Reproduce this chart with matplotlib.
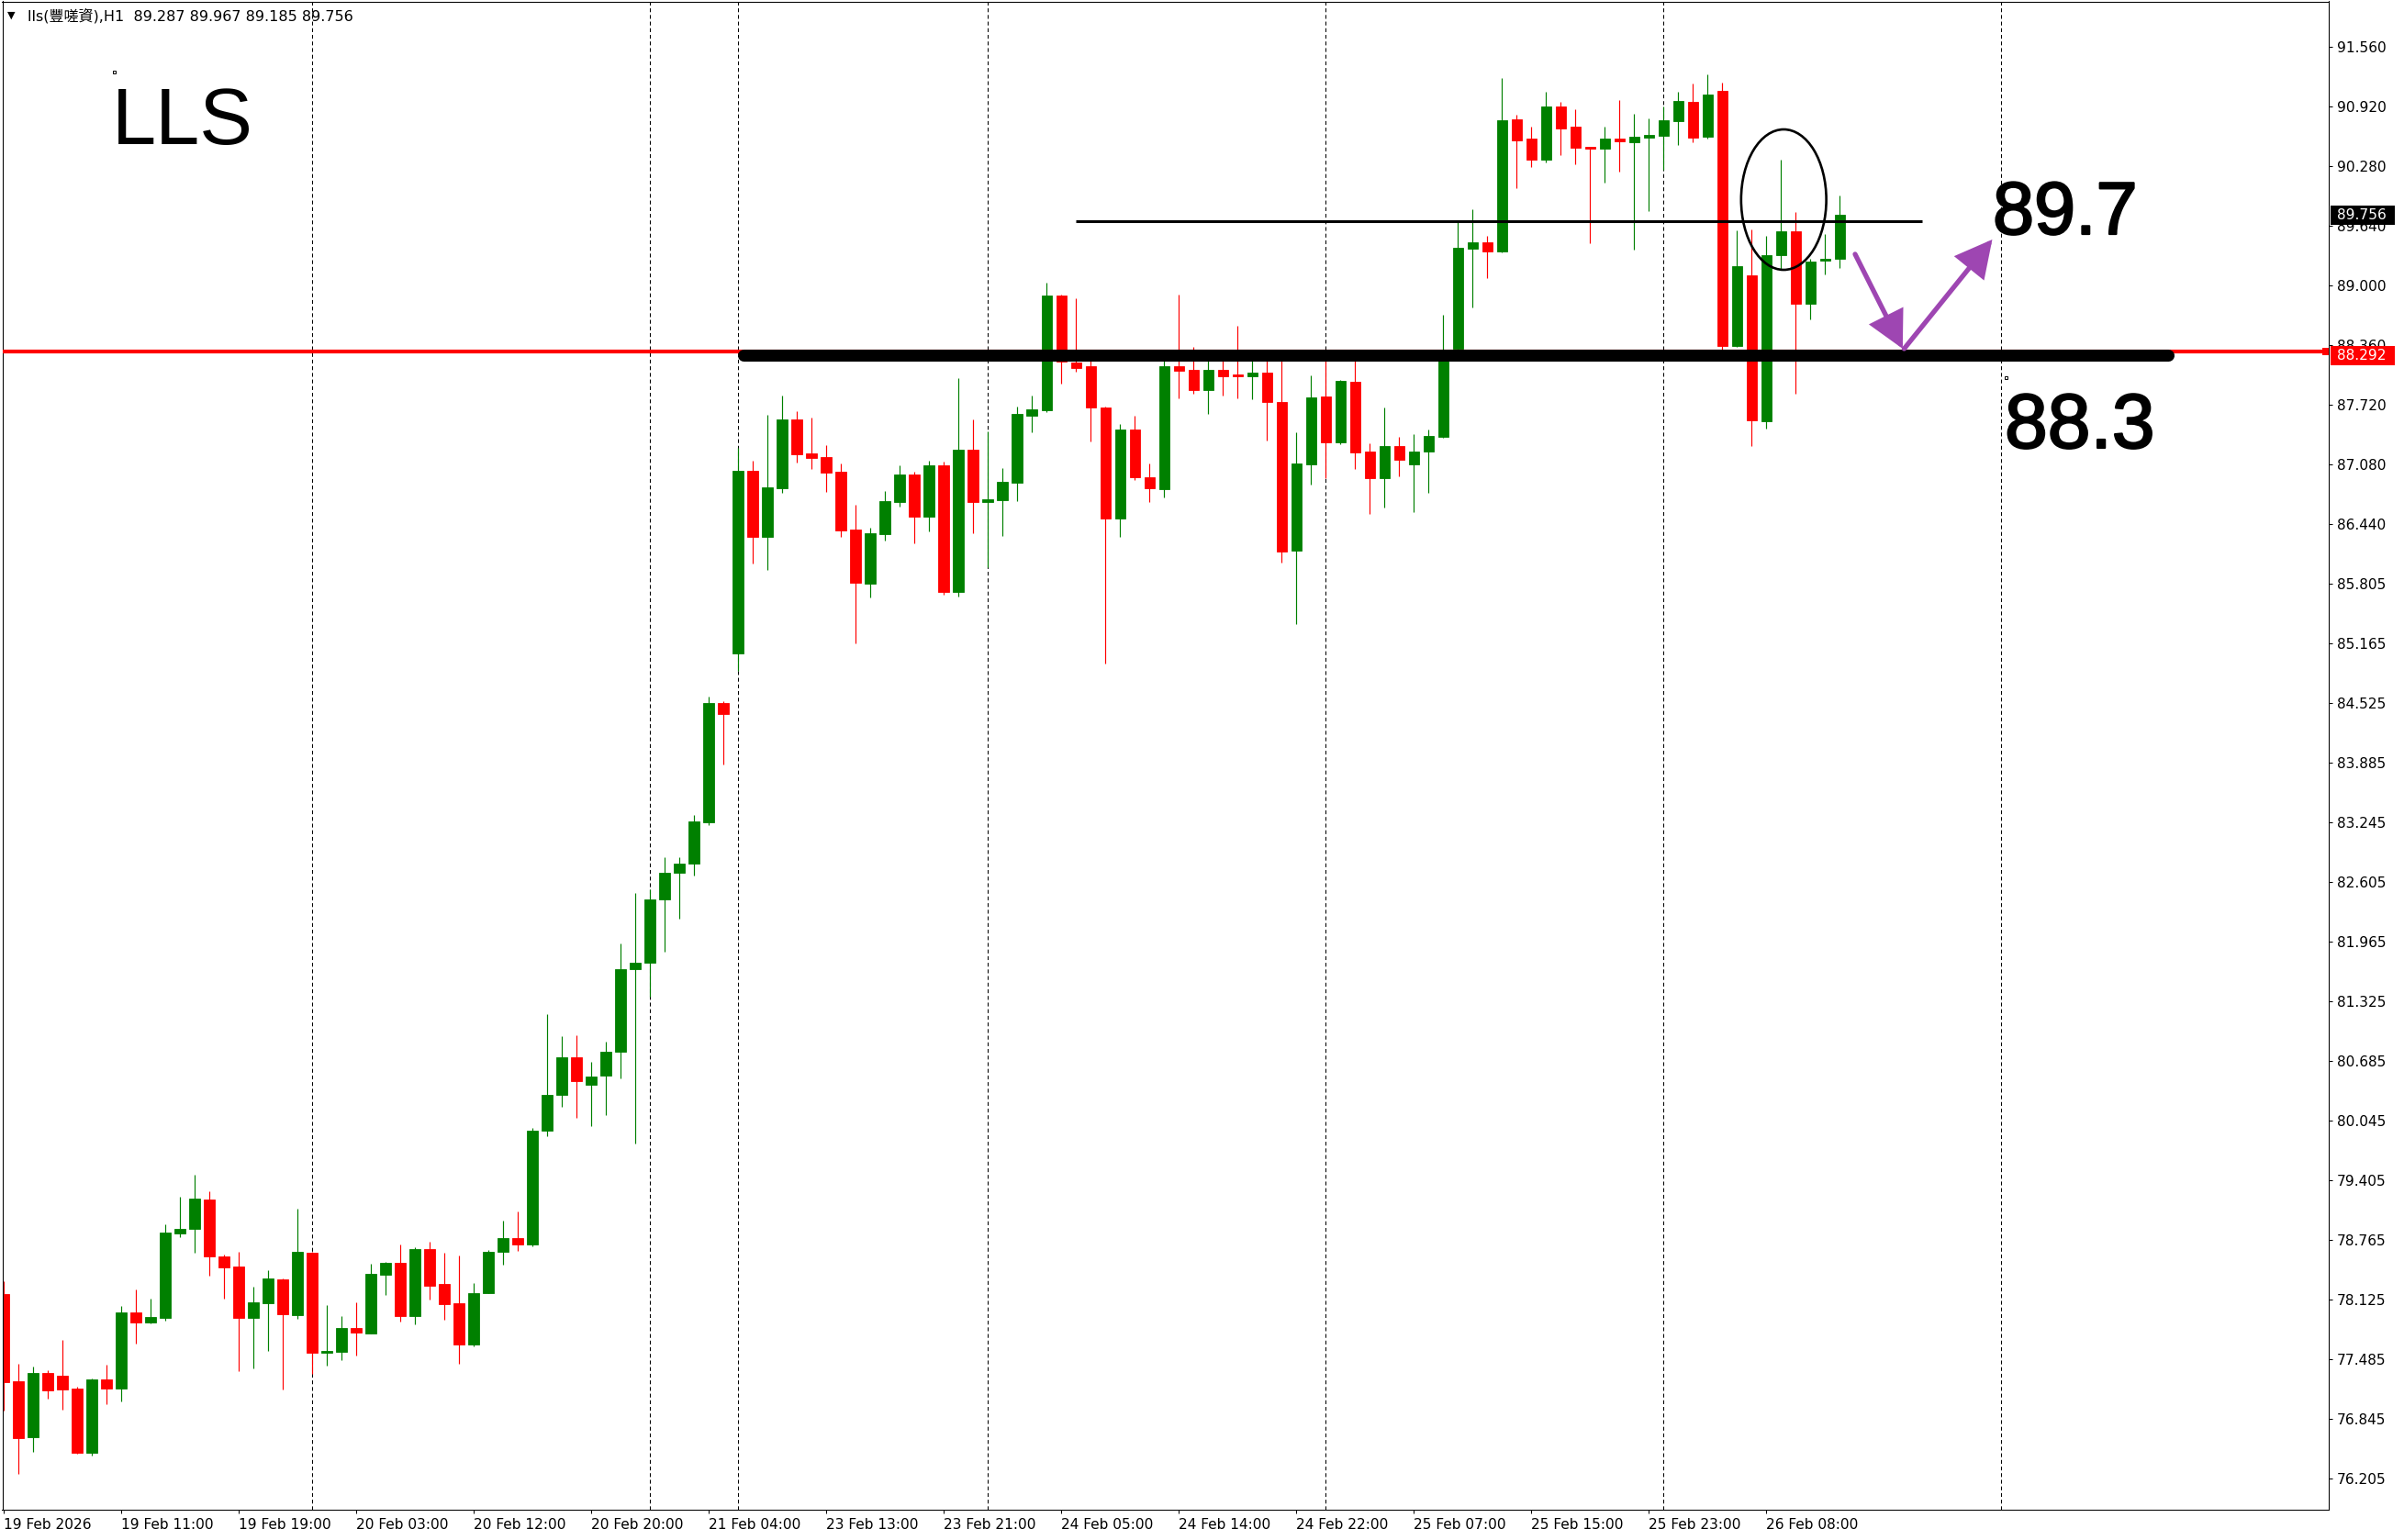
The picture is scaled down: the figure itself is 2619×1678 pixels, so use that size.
import matplotlib
matplotlib.use("Agg")
import matplotlib.pyplot as plt
from matplotlib.patches import Rectangle, Ellipse
from matplotlib.transforms import blended_transform_factory, IdentityTransform
import matplotlib.patheffects as pe
import numpy as np

plt.rcParams['lines.scale_dashes'] = False

W, H, DPI = 2619, 1678, 100

# ---------------- data (H1 candles) ----------------
opens = [78.184, 77.249, 76.652, 77.338, 77.308, 77.167, 76.485, 77.266, 77.174, 77.987,
         77.882, 77.932, 78.834, 78.880, 79.195, 78.588, 78.479, 77.932, 78.086, 78.342,
         77.961, 78.627, 77.551, 77.567, 77.817, 77.764, 78.394, 78.519, 77.951, 78.666,
         78.292, 78.086, 77.643, 78.194, 78.637, 78.785, 78.716, 79.931, 80.323, 80.724,
         80.430, 80.528, 80.778, 81.664, 81.733, 82.419, 82.698, 82.796, 83.246, 84.524,
         85.057, 87.009, 86.304, 86.829, 87.567, 87.200, 87.157, 87.003, 86.386, 85.805,
         86.337, 86.681, 86.973, 86.524, 87.072, 85.713, 87.239, 86.681, 86.698, 86.888,
         87.606, 87.665, 88.896, 88.174, 88.135, 87.692, 86.501, 87.452, 86.944, 86.813,
         88.135, 88.092, 87.879, 88.092, 88.043, 88.026, 88.066, 87.748, 86.156, 87.081,
         87.810, 87.321, 87.967, 87.219, 86.937, 87.278, 87.082, 87.219, 87.377, 88.320,
         89.398, 89.463, 89.365, 90.782, 90.579, 90.349, 90.920, 90.700, 90.487, 90.470,
         90.579, 90.536, 90.585, 90.608, 90.766, 90.969, 90.595, 91.087, 88.354, 89.109,
         87.543, 89.323, 89.585, 88.808, 89.264, 89.287]
highs = [78.325, 77.436, 77.403, 77.371, 77.692, 77.190, 77.276, 77.423, 78.060, 78.233,
         78.135, 78.932, 79.228, 79.464, 79.283, 78.611, 78.634, 78.266, 78.440, 78.350,
         79.096, 78.640, 78.069, 77.948, 78.096, 78.512, 78.530, 78.716, 78.683, 78.749,
         78.627, 78.594, 78.306, 78.657, 78.972, 79.070, 79.970, 81.189, 80.950, 80.959,
         80.675, 80.886, 81.939, 82.487, 82.526, 82.869, 82.869, 83.325, 84.593, 84.545,
         87.255, 87.124, 87.616, 87.820, 87.656, 87.583, 87.288, 87.091, 86.648, 86.402,
         86.796, 87.072, 86.999, 87.124, 87.114, 88.010, 87.567, 87.436, 87.042, 87.698,
         87.820, 89.027, 88.900, 88.863, 88.190, 87.700, 87.518, 87.607, 87.091, 88.191,
         88.906, 88.338, 88.250, 88.250, 88.568, 88.250, 88.250, 88.250, 87.429, 88.033,
         88.300, 87.990, 88.250, 87.311, 87.692, 87.377, 87.410, 87.452, 88.689, 89.683,
         89.814, 89.529, 91.225, 90.831, 90.700, 91.077, 90.972, 90.887, 90.490, 90.707,
         90.989, 90.841, 90.792, 90.920, 91.077, 91.169, 91.268, 91.176, 89.594, 89.600,
         89.536, 90.350, 89.789, 89.290, 89.552, 89.967]
lows = [76.937, 76.255, 76.495, 77.062, 76.944, 76.472, 76.452, 77.003, 77.036, 77.653,
        77.870, 77.899, 78.791, 78.627, 78.381, 78.135, 77.357, 77.390, 77.577, 77.161,
        77.915, 77.331, 77.413, 77.479, 77.521, 77.760, 78.174, 77.889, 77.856, 78.128,
        77.905, 77.439, 77.626, 78.190, 78.502, 78.644, 78.700, 79.872, 80.190, 80.078,
        79.990, 80.102, 80.494, 79.794, 81.376, 81.851, 82.208, 82.673, 83.212, 83.863,
        84.870, 86.018, 85.953, 86.780, 87.101, 87.036, 86.786, 86.304, 85.162, 85.658,
        86.261, 86.632, 86.238, 86.360, 85.687, 85.664, 86.343, 85.976, 86.314, 86.688,
        87.429, 87.642, 87.951, 88.076, 87.328, 84.949, 86.304, 86.911, 86.681, 86.731,
        87.790, 87.839, 87.626, 87.820, 87.790, 87.780, 87.337, 86.032, 85.369, 86.862,
        86.937, 87.300, 87.036, 86.550, 86.622, 86.950, 86.566, 86.773, 87.364, 88.300,
        88.764, 89.083, 89.360, 90.044, 90.267, 90.323, 90.398, 90.300, 89.453, 90.103,
        90.218, 89.388, 89.798, 90.241, 90.503, 90.536, 90.579, 88.305, 88.338, 87.278,
        87.469, 89.175, 87.840, 88.640, 89.116, 89.185]
closes = [77.239, 76.642, 77.338, 77.151, 77.161, 76.485, 77.266, 77.174, 77.987, 77.882,
          77.938, 78.847, 78.883, 79.208, 78.584, 78.473, 77.932, 78.096, 78.348, 77.971,
          78.637, 77.551, 77.574, 77.817, 77.774, 78.404, 78.519, 77.951, 78.666, 78.276,
          78.079, 77.643, 78.191, 78.637, 78.785, 78.719, 79.931, 80.323, 80.724, 80.470,
          80.519, 80.783, 81.669, 81.733, 82.419, 82.698, 82.796, 83.251, 84.524, 84.402,
          87.009, 86.304, 86.835, 87.567, 87.190, 87.150, 86.993, 86.376, 85.812, 86.343,
          86.688, 86.973, 86.524, 87.072, 85.713, 87.239, 86.681, 86.704, 86.894, 87.623,
          87.672, 88.896, 88.181, 88.118, 87.692, 86.501, 87.452, 86.944, 86.829, 88.135,
          88.086, 87.879, 88.092, 88.026, 88.026, 88.066, 87.754, 86.150, 87.091, 87.797,
          87.321, 87.977, 87.213, 86.937, 87.278, 87.134, 87.219, 87.387, 88.300, 89.404,
          89.463, 89.365, 90.772, 90.559, 90.349, 90.920, 90.684, 90.480, 90.470, 90.579,
          90.546, 90.592, 90.615, 90.772, 90.979, 90.585, 91.051, 88.354, 89.207, 87.550,
          89.323, 89.585, 88.808, 89.257, 89.290, 89.756]

time_tick_bars = [0, 8, 16, 24, 32, 40, 48, 56, 64, 72, 80, 88, 96, 104, 112, 120]
time_labels = ['19 Feb 2026', '19 Feb 11:00', '19 Feb 19:00', '20 Feb 03:00',
               '20 Feb 12:00', '20 Feb 20:00', '21 Feb 04:00', '23 Feb 13:00',
               '23 Feb 21:00', '24 Feb 05:00', '24 Feb 14:00', '24 Feb 22:00',
               '25 Feb 07:00', '25 Feb 15:00', '25 Feb 23:00', '26 Feb 08:00']
price_ticks = [91.560, 90.920, 90.280, 89.640, 89.000, 88.360, 87.720, 87.080, 86.440,
               85.805, 85.165, 84.525, 83.885, 83.245, 82.605, 81.965, 81.325, 80.685,
               80.045, 79.405, 78.765, 78.125, 77.485, 76.845, 76.205]
price_labels = ['91.560', '90.920', '90.280', '89.640', '89.000', '88.360', '87.720',
                '87.080', '86.440', '85.805', '85.165', '84.525', '83.885', '83.245',
                '82.605', '81.965', '81.325', '80.685', '80.045', '79.405', '78.765',
                '78.125', '77.485', '76.845', '76.205']
day_separators = [21, 44, 50, 67, 90, 113, 136]

header_text = 'lls(豐嗟資),H1  89.287 89.967 89.185 89.756'
last_price = 89.756
red_level = 88.292
support_level = 88.248
support_span = [50.4, 147.4]
resist_level = 89.690
resist_span = [73.0, 130.6]
ellipse_center = (121.2, 89.921)
ellipse_size = (5.8, 1.506)
arrow_down = [(126.06, 89.336), (129.3, 88.322)]
arrow_up = [(129.4, 88.322), (135.4, 89.493)]

# ---------------- figure ----------------
fig = plt.figure(figsize=(W / DPI, H / DPI), dpi=DPI, facecolor='white')
ax_l, ax_r, ax_t, ax_b = 2.5, 2537, 1.5, 1645
ax = fig.add_axes([ax_l / W, 1 - ax_b / H, (ax_r - ax_l) / W, (ax_b - ax_t) / H])
ax.set_facecolor('white')
ax.set_xlim(-0.094, 158.31)
ax.set_ylim(75.871, 92.047)

GREEN, RED = '#008000', '#FF0000'
o = np.array(opens); h = np.array(highs); l = np.array(lows); c = np.array(closes)
idx = np.arange(len(o))
col = np.where(c >= o, GREEN, RED)
ax.vlines(idx, l, h, colors=col, linewidth=0.85, zorder=2)
ax.bar(idx, np.abs(c - o), bottom=np.minimum(o, c), width=0.69, color=col,
       edgecolor=col, linewidth=0.6, zorder=2.2)

for b in day_separators:
    ax.axvline(b, color='black', linewidth=0.75, linestyle=(0, (3.0, 2.2)), zorder=1)

# red horizontal level
ax.axhline(red_level, color='red', linewidth=3.0, zorder=3)
# thick black support
ax.plot(support_span, [support_level] * 2, color='black', linewidth=9.4,
        solid_capstyle='round', zorder=5)
# thin black resistance
ax.plot(resist_span, [resist_level] * 2, color='black', linewidth=2.2,
        solid_capstyle='butt', zorder=5)
ax.add_patch(Ellipse(ellipse_center, ellipse_size[0], ellipse_size[1], fill=False,
                     edgecolor='black', linewidth=1.9, zorder=6))

PURPLE = '#9E46B2'
for (s, e) in (arrow_down, arrow_up):
    ax.annotate('', xy=e, xytext=s, xycoords='data', textcoords='data',
                arrowprops=dict(arrowstyle='-|>,head_length=23,head_width=12',
                                mutation_scale=1, color=PURPLE, lw=3.8,
                                shrinkA=0, shrinkB=0, joinstyle='miter'),
                zorder=7)

# axes / ticks
for sp in ax.spines.values():
    sp.set_linewidth(0.75)
    sp.set_color('black')
ax.yaxis.tick_right()
ax.set_yticks(price_ticks)
ax.set_yticklabels(price_labels)
ax.set_xticks(time_tick_bars)
ax.set_xticklabels(time_labels)
ax.tick_params(axis='y', direction='out', length=3.2, width=0.75, pad=3.2,
               labelsize=11.1, colors='black')
ax.tick_params(axis='x', direction='out', length=3.0, width=0.75, pad=3.8,
               labelsize=11.1, colors='black')
for lab in ax.get_xticklabels():
    lab.set_horizontalalignment('left')

# price boxes on the right scale (y offset in pixels, positive = downwards)
px_per_price = (ax_b - ax_t) / (92.047 - 75.871)
bt = blended_transform_factory(fig.transFigure, ax.transData)
for price, fc, bh, off in ((last_price, 'black', 21, 0.5), (red_level, 'red', 21, 4.0)):
    hh = bh / px_per_price
    yc = price - off / px_per_price
    ax.add_patch(Rectangle((2539 / W, yc - hh / 2), 70 / W, hh, transform=bt,
                           facecolor=fc, edgecolor='none', clip_on=False, zorder=20))
    ax.text(2546 / W, yc, f'{price:.3f}', transform=bt, color='white',
            fontsize=11.1, va='center', ha='left', clip_on=False, zorder=21)
# red tab at the axis
ax.add_patch(Rectangle((2530 / W, red_level - 4 / px_per_price), 7 / W, 8 / px_per_price,
                       transform=bt, facecolor='red', edgecolor='none', clip_on=False, zorder=4))

# header & annotations
fig.text(8 / W, 1 - 17 / H, '▼', fontsize=8, va='center', ha='left', color='black')
fig.text(30 / W, 1 - 17 / H, header_text, fontsize=11.5, va='center', ha='left',
         family=['DejaVu Sans', 'Noto Sans CJK TC'], color='black')
fig.text(122 / W, 1 - 157 / H, 'LLS', fontsize=62.3, family='Liberation Sans',
         va='baseline', ha='left', color='black')
bold_fx = [pe.withStroke(linewidth=1.6, foreground='black')]
fig.text(2171 / W, 1 - 255 / H, '89.7', fontsize=58.3, family='Liberation Sans',
         va='baseline', ha='left', color='black', path_effects=bold_fx)
fig.text(2184 / W, 1 - 488 / H, '88.3', fontsize=60.5, family='Liberation Sans',
         va='baseline', ha='left', color='black', path_effects=bold_fx)
for (x, y) in ((124.3, 78.3), (2185, 411)):
    fig.add_artist(Rectangle((x - 1.5, H - y - 1.5), 3, 3, fill=False, linewidth=0.7,
                             edgecolor='black', transform=IdentityTransform()))

fig.savefig('out.png', dpi=DPI, facecolor='white')
